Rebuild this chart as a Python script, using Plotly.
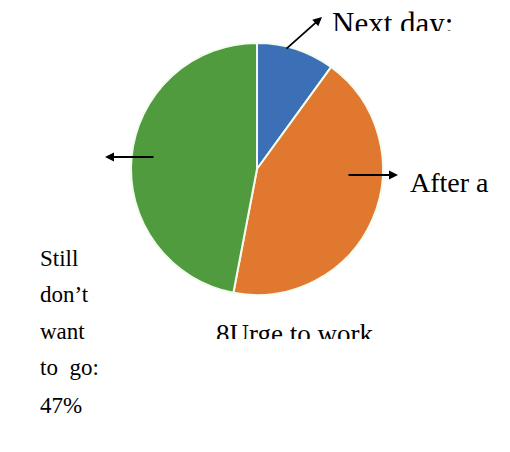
import plotly.graph_objects as go

labels = ["Next day", "Urge to work", "Still don't want to go"]
values = [10, 43, 47]
colors = ["#3B70B6", "#E0792F", "#4F9B3E"]

W, H = 510, 452
SERIF = "Liberation Serif, Times New Roman, serif"

fig = go.Figure(go.Pie(
    labels=labels, values=values, sort=False, direction="clockwise",
    rotation=0, textinfo="none", hoverinfo="label+percent",
    marker=dict(colors=colors, line=dict(color="#F4FBEF", width=2)),
    domain=dict(x=[131 / W, 383 / W], y=[1 - 296 / H, 1 - 42 / H]),
    showlegend=False,
))

def px(x):
    return x / W

def py(y):
    return 1 - y / H

ann = []
# arrows (head at x,y ; tail offset ax,ay in pixels)
for hx, hy, tx, ty in [(322, 17, 285, 50), (105, 157, 155, 157), (398, 175, 347, 175)]:
    ann.append(dict(x=px(hx), y=py(hy), xref="paper", yref="paper", text="",
                    showarrow=True, ax=tx - hx, ay=ty - hy, arrowhead=2,
                    arrowsize=1, arrowwidth=1.8, arrowcolor="black"))

def txt(t, x, y, size, anchor="left"):
    ann.append(dict(x=px(x), y=py(y), xref="paper", yref="paper", text=t,
                    showarrow=False, xanchor=anchor, yanchor="middle",
                    font=dict(family=SERIF, size=size, color="black")))

txt("Next day:", 330, 24, 31)
txt("After a", 408, 182, 28)
txt("8Urge to work", 214, 334, 27)
for line, yy in zip(["Still", "don’t", "want", "to  go:", "47%"], [258, 294, 331, 367, 405]):
    txt(line, 38, yy, 23)

# white covers that clip the labels like the reference
def cover(x0, y0, x1, y1):
    ann.append(dict(x=px(x0), y=py(y0), xref="paper", yref="paper", text=" ",
                    showarrow=False, xanchor="left", yanchor="top",
                    width=x1 - x0, height=y1 - y0, bgcolor="white",
                    borderpad=0, borderwidth=0))

cover(326, 31, 470, 46)
cover(205, 339, 400, 362)

fig.update_layout(width=W, height=H, margin=dict(l=0, r=0, t=0, b=0),
                  paper_bgcolor="white", plot_bgcolor="white",
                  annotations=ann)
fig.write_html("out.html")
